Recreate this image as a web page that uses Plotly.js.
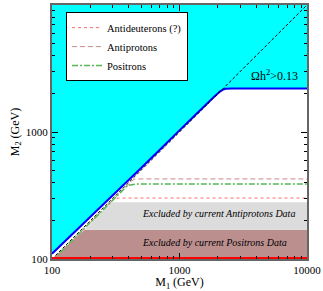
<!DOCTYPE html>
<html>
<head>
<meta charset="utf-8">
<script src="https://cdn.plot.ly/plotly-3.0.1.min.js"></script>
<style>html,body{margin:0;padding:0;background:#fff;}#chart{width:323px;height:291px;}</style>
</head>
<body>
<div id="chart"></div>
<script>
// ---- data (GeV) ----
const relicX = [100, 500, 1000, 1800, 2100, 2300, 2600, 10000];
const relicY = [110, 520, 1030, 1830, 2100, 2190, 2200, 2200];
const diagX = [100, 10000];
const diagY = [100, 10000];
const antideuteronX = [100, 300, 330, 10000];
const antideuteronY = [97, 292, 302, 302];
const antiprotonX = [100, 440, 500, 10000];
const antiprotonY = [97, 425, 427, 427];
const positronX = [100, 390, 460, 10000];
const positronY = [97, 378, 390, 390];
const pbarBandX = [180, 290, 10000, 10000];
const pbarBandY = [170, 280, 280, 170];
const posBandX = [100, 180, 10000, 10000];
const posBandY = [100, 170, 170, 100];
const bottomX = [100, 10000];
const bottomY = [100, 100];
const majorTicks = [100, 1000, 10000];
const majorLabels = ['100', '1000', '10000'];
const minorTicks = [200,300,400,500,600,700,800,900,2000,3000,4000,5000,6000,7000,8000,9000];
const topCorner = 10000;

const serif = 'Liberation Serif, Times New Roman, serif';

const cyanX = relicX.concat([topCorner, relicX[0]]);
const cyanY = relicY.concat([topCorner, topCorner]);

const traces = [
  {x: cyanX, y: cyanY, mode: 'none', fill: 'toself', fillcolor: '#00FFFF', showlegend: false, hoverinfo: 'skip'},
  {x: posBandX, y: posBandY, mode: 'none', fill: 'toself', fillcolor: '#BC8F8F', showlegend: false, hoverinfo: 'skip'},
  {x: pbarBandX, y: pbarBandY, mode: 'none', fill: 'toself', fillcolor: '#DCDCDC', showlegend: false, hoverinfo: 'skip'},
  {x: relicX, y: relicY, mode: 'lines', line: {color: '#0000FF', width: 2, shape: 'spline', smoothing: 0.4}, showlegend: false},
  {x: diagX, y: diagY, mode: 'lines', line: {color: '#000000', width: 1, dash: '3px,2px'}, showlegend: false},
  {x: antideuteronX, y: antideuteronY, mode: 'lines', name: 'Antideuterons (?)', line: {color: '#FF6A6A', width: 1, dash: 'dot'}},
  {x: antiprotonX, y: antiprotonY, mode: 'lines', name: 'Antiprotons', line: {color: '#C88A8A', width: 1, dash: '5px,3px'}},
  {x: positronX, y: positronY, mode: 'lines', name: 'Positrons', line: {color: '#55B855', width: 1.5, dash: '6px,2px,2px,2px'}},
  {x: bottomX, y: bottomY, mode: 'lines', line: {color: '#FF0000', width: 4}, showlegend: false}
];

const axisCommon = {
  type: 'log',
  tickmode: 'array',
  tickvals: majorTicks,
  ticktext: majorLabels,
  ticks: 'inside',
  ticklen: 6,
  tickwidth: 1,
  tickcolor: '#000',
  showline: true,
  linecolor: '#666',
  linewidth: 2,
  mirror: 'allticks',
  showgrid: false,
  zeroline: false,
  tickfont: {family: serif, size: 11, color: '#000'},
  minor: {tickmode: 'array', tickvals: minorTicks, ticks: 'inside', ticklen: 3, tickwidth: 1, tickcolor: '#000', showgrid: false}
};

const layout = {
  width: 323, height: 291,
  margin: {l: 52, r: 16, t: 5, b: 32},
  paper_bgcolor: '#fff', plot_bgcolor: '#fff',
  showlegend: true,
  legend: {x: 0.055, y: 0.972, xanchor: 'left', yanchor: 'top', bgcolor: '#fff', bordercolor: '#000', borderwidth: 1,
           font: {family: serif, size: 10.5, color: '#000'}, tracegroupgap: 0, itemwidth: 30},
  xaxis: Object.assign({}, axisCommon, {range: [2, 4], title: {text: 'M<sub>1</sub> (GeV)', font: {family: serif, size: 12, color: '#000'}, standoff: 2}}),
  yaxis: Object.assign({}, axisCommon, {range: [2, 4], title: {text: 'M<sub>2</sub> (GeV)', font: {family: serif, size: 12, color: '#000'}, standoff: 4}}),
  annotations: [
    {x: Math.log10(5600), y: Math.log10(2800), xref: 'x', yref: 'y', text: 'Ωh<sup>2</sup>>0.13', showarrow: false,
     font: {family: serif, size: 12, color: '#000'}},
    {x: Math.log10(2030), y: Math.log10(227), xref: 'x', yref: 'y', text: '<i>Excluded by current Antiprotons Data</i>', showarrow: false,
     font: {family: serif, size: 10, color: '#000'}},
    {x: Math.log10(1880), y: Math.log10(135), xref: 'x', yref: 'y', text: '<i>Excluded by current Positrons Data</i>', showarrow: false,
     font: {family: serif, size: 10, color: '#000'}}
  ]
};

Plotly.newPlot('chart', traces, layout, {staticPlot: true, displayModeBar: false});
</script>
</body>
</html>
